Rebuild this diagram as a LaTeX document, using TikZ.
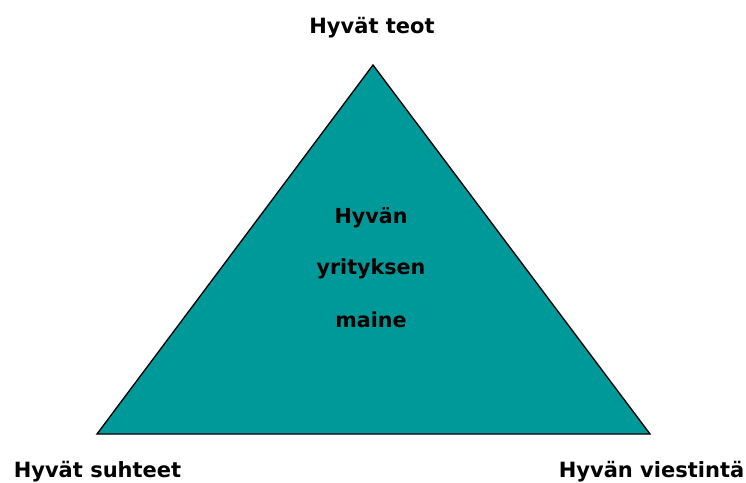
\documentclass[tikz,border=0pt]{standalone}
\usepackage{fontspec}
\setmainfont{DejaVu Sans}
\usetikzlibrary{calc}

\definecolor{maineteal}{RGB}{0,153,153}

\tikzset{
  kulma/.style={anchor=base,inner sep=0.75pt,font=\bfseries\fontsize{15.75}{19}\selectfont},
  keski/.style={anchor=base,inner sep=0.75pt,font=\bfseries\fontsize{15.5}{19}\selectfont}
}

\begin{document}
\begin{tikzpicture}[x=0.75pt,y=0.75pt,yscale=-1,xscale=1]
\useasboundingbox (0,0) rectangle (746,482);

%Shape: Triangle
\coordinate (teot) at (373,65);
\coordinate (suhteet) at (97,434);
\coordinate (viestinta) at (650,434);
\draw [fill=maineteal, line width=1pt, line join=miter] (teot) -- (suhteet) -- (viestinta) -- cycle ;

% Text Node
\node [kulma] (lteot) at (372,33) {Hyvät teot};
% Text Node
\node [kulma] (lsuhteet) at (97.5,477) {Hyvät suhteet};
% Text Node
\node [kulma] (lviestinta) at (651.5,477) {Hyvän viestintä};
% Text Node
\node [keski] (hyvan) at (371,223) {Hyvän};
% Text Node
\node [keski] (yrityksen) at (371,274) {yrityksen};
% Text Node
\node [keski] (maine) at (371,327) {maine};

\end{tikzpicture}
\end{document}
